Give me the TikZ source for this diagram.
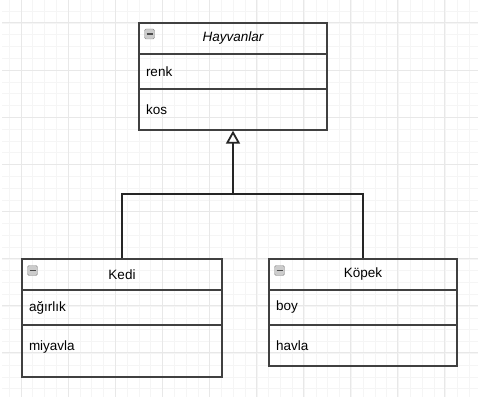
\documentclass[tikz,border=0pt]{standalone}
\usepackage{fontspec}
\setmainfont{Liberation Sans}
\usetikzlibrary{arrows.meta}

\begin{document}
\begin{tikzpicture}[x=1pt, y=-1pt,
        minor_grid/.style={draw=black!4, line width=0.8pt},
        major_grid/.style={draw=black!9, line width=1pt},
        head_style/.style={rectangle, draw=black!75, line width=1.3pt, minimum height=31pt, inner sep=0pt, font=\fontsize{13.5}{16}\selectfont},
        field_style/.style={rectangle, draw=black!75, line width=1.3pt, inner xsep=7pt, inner ysep=0pt, align=left, font=\fontsize{13.5}{16}\selectfont},
        toggle_style/.style={rectangle, rounded corners=1.5pt, draw=black!45, fill=black!20, minimum size=10pt, inner sep=0pt},
        edge_style/.style={draw=black!85, line width=1.8pt},
        inherit_style/.style={draw=black!85, line width=1.8pt, -{Triangle[open, length=13pt, width=14pt]}}]

        \useasboundingbox (0,0) rectangle (478,406);

        \foreach \gx in {0,...,39} {\draw [minor_grid] ({9.2+11.8*\gx},0) -- ({9.2+11.8*\gx},397);}
        \foreach \gy in {0,...,32} {\draw [minor_grid] (2,{11.2+11.8*\gy}) -- (478,{11.2+11.8*\gy});}
        \foreach \gx in {0,...,9} {\draw [major_grid] ({21+47.1*\gx},0) -- ({21+47.1*\gx},397);}
        \foreach \gy in {0,...,7} {\draw [major_grid] (2,{23+47.1*\gy}) -- (478,{23+47.1*\gy});}

        \node [head_style, minimum width=188pt, font=\fontsize{13.5}{16}\selectfont\itshape] (hay_head) at (233,38.5) {Hayvanlar};

        \node [field_style, text width=174pt, minimum height=35pt] (hay_attr) at (233,71.5) {renk};

        \node [field_style, text width=174pt, minimum height=41pt] (hay_ops) at (233,109.5) {kos};

        \node [head_style, minimum width=200pt] (kedi_head) at (122,274.5) {Kedi};

        \node [field_style, text width=186pt, minimum height=35pt] (kedi_attr) at (122,307.5) {ağırlık};

        \node [field_style, text width=186pt, minimum height=52pt, text depth=11pt] (kedi_ops) at (122,351) {miyavla};

        \node [head_style, minimum width=188pt] (kopek_head) at (363,274.5) {Köpek};

        \node [field_style, text width=174pt, minimum height=35pt] (kopek_attr) at (363,307.5) {boy};

        \node [field_style, text width=174pt, minimum height=41pt] (kopek_ops) at (363,345.5) {havla};

        \node [toggle_style] (hay_toggle) at (149.5,34) {\textcolor{black!70}{\rule{6pt}{1.6pt}}};

        \node [toggle_style] (kedi_toggle) at (32.5,270.5) {\textcolor{black!70}{\rule{6pt}{1.6pt}}};

        \node [toggle_style] (kopek_toggle) at (279.5,270.5) {\textcolor{black!70}{\rule{6pt}{1.6pt}}};

        \coordinate (fork) at (233,194);

        \draw [edge_style] (kedi_head.north) |- (fork) -| (kopek_head.north);

        \draw [inherit_style] (fork) -- (hay_ops.south);

        \end{tikzpicture}
\end{document}
